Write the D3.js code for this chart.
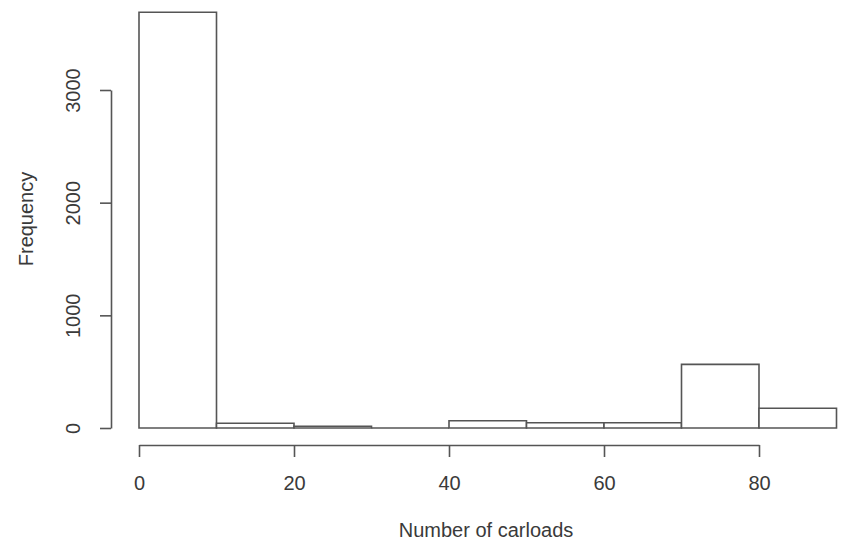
<!DOCTYPE html>
<html>
<head>
<meta charset="utf-8">
<script src="https://cdn.jsdelivr.net/npm/d3@7"></script>
<style>
body { margin: 0; background: #fff; }
text { font-family: "Liberation Sans", Arial, sans-serif; fill: #3a3a3a; }
</style>
</head>
<body>
<div id="chart"></div>
<script>
var width = 848;
var height = 544;

// histogram bins (lower edge) and counts
var binStarts = [0, 10, 20, 30, 40, 50, 60, 70, 80];
var binWidth = 10;
var counts = [3690, 42, 16, 0, 64, 47, 47, 565, 175];
var xTicks = [0, 20, 40, 60, 80];
var yTicks = [0, 1000, 2000, 3000];

var svg = d3.select("#chart").append("svg")
.attr("width", width)
.attr("height", height);

var x = d3.scaleLinear()
.domain([0, 80])
.range([139, 759]);

var y = d3.scaleLinear()
.domain([0, 3000])
.range([428, 90]);

var stroke = "#555";

// bars drawn as closed paths so an empty bin still shows its baseline
svg.selectAll("path.bar")
.data(binStarts)
.enter()
.append("path")
.attr("class", "bar")
.attr("d", function(d, i) {
    var p = d3.path();
    p.rect(x(d), y(counts[i]), x(d + binWidth) - x(d), y(0) - y(counts[i]));
    return p.toString();
})
.attr("fill", "#fff")
.attr("stroke", stroke)
.attr("stroke-width", 1.6);

// x axis
var gx = svg.append("g")
.attr("transform", "translate(0,445)")
.call(d3.axisBottom(x).tickValues(xTicks).tickFormat(d3.format("d")).tickSize(12).tickSizeOuter(0));

// y axis
var gy = svg.append("g")
.attr("transform", "translate(111,0)")
.call(d3.axisLeft(y).tickValues(yTicks).tickFormat(d3.format("d")).tickSize(11).tickSizeOuter(0));

[gx, gy].forEach(function(g) {
g.selectAll("path, line").attr("stroke", stroke).attr("stroke-width", 1.6);
g.selectAll("text")
    .style("font-size", "20px")
    .attr("fill", "#3a3a3a");
});

gx.selectAll(".tick text")
.attr("y", 45)
.attr("dy", 0);

gy.selectAll(".tick text")
.attr("transform", "rotate(-90)")
.attr("x", 0)
.attr("dx", 0)
.attr("y", -31)
.attr("dy", 0)
.attr("text-anchor", "middle");

svg.append("text")
.attr("x", 486)
.attr("y", 537)
.attr("text-anchor", "middle")
.style("font-size", "20px")
.text("Number of carloads");

svg.append("text")
.attr("transform", "translate(33,219) rotate(-90)")
.attr("text-anchor", "middle")
.style("font-size", "20px")
.text("Frequency");
</script>
</body>
</html>
